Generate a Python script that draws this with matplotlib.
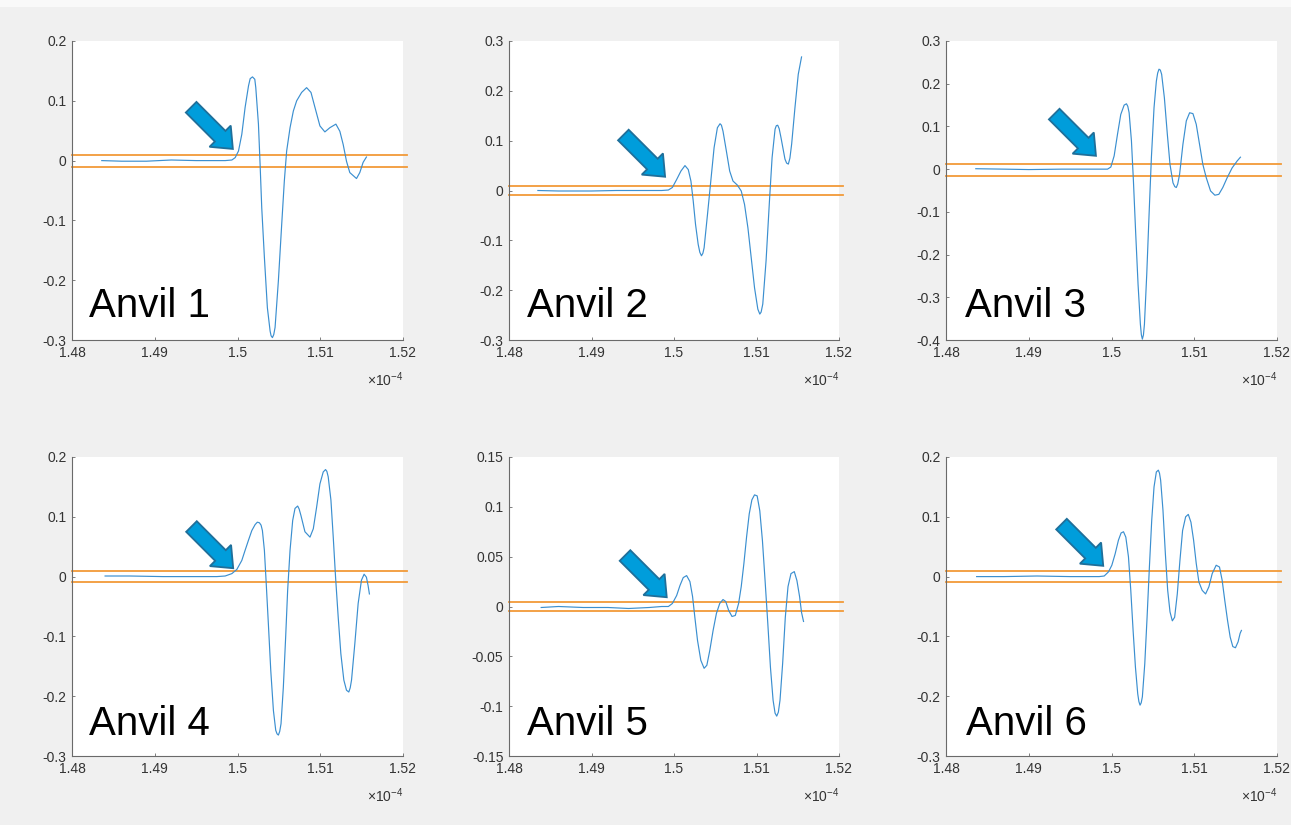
import numpy as np
import matplotlib
matplotlib.use("Agg")
import matplotlib.pyplot as plt
from matplotlib.patches import Polygon, Rectangle
from matplotlib.transforms import IdentityTransform
from matplotlib.ticker import FixedLocator, FuncFormatter

plt.rcParams['font.family'] = ['Liberation Sans', 'DejaVu Sans']
plt.rcParams['mathtext.fontset'] = 'custom'
plt.rcParams['mathtext.rm'] = 'Liberation Sans'
plt.rcParams['mathtext.it'] = 'Liberation Sans'

# ---- waveforms (time in microseconds, amplitude) ----
anvil1_t = [148.36, 148.6, 148.9, 149.2, 149.5, 149.7,
            149.851, 149.932, 149.972, 150.012, 150.052, 150.092, 150.133, 150.153, 150.181,
            150.209, 150.221, 150.253, 150.273, 150.293, 150.325, 150.361, 150.394, 150.406,
            150.422, 150.438, 150.454, 150.494, 150.534, 150.566, 150.594, 150.635, 150.675,
            150.715, 150.775, 150.835, 150.888, 150.936, 150.996, 151.056, 151.116, 151.189,
            151.237, 151.277, 151.317, 151.357, 151.438, 151.478, 151.518, 151.558]
anvil1_v = [0.000, -0.001, -0.001, 0.001, 0.000, 0.000,
            0.000, 0.001, 0.005, 0.016, 0.044, 0.089, 0.125, 0.137, 0.140,
            0.136, 0.122, 0.061, -0.006, -0.079, -0.162, -0.246, -0.285, -0.293,
            -0.296, -0.291, -0.279, -0.201, -0.107, -0.034, 0.016, 0.055, 0.083,
            0.100, 0.114, 0.122, 0.114, 0.089, 0.058, 0.048, 0.055, 0.061,
            0.049, 0.027, -0.001, -0.020, -0.030, -0.020, -0.003, 0.006]

anvil2_t = [148.35, 148.6, 149.0, 149.3, 149.6,
            149.851, 149.932, 149.980, 150.032, 150.084, 150.133, 150.173, 150.205, 150.233,
            150.261, 150.293, 150.313, 150.333, 150.350, 150.365, 150.406, 150.446, 150.486,
            150.526, 150.558, 150.575, 150.594, 150.635, 150.675, 150.715, 150.767, 150.815,
            150.855, 150.896, 150.936, 150.976, 151.016, 151.040, 151.056, 151.076, 151.116,
            151.157, 151.189, 151.225, 151.240, 151.257, 151.275, 151.297, 151.345, 151.365,
            151.386, 151.405, 151.426, 151.466, 151.506, 151.546]
anvil2_v = [0.000, -0.001, -0.001, 0.000, 0.000,
            0.000, 0.001, 0.006, 0.022, 0.039, 0.050, 0.042, 0.019, -0.021,
            -0.068, -0.108, -0.124, -0.131, -0.126, -0.115, -0.048, 0.019, 0.086,
            0.126, 0.134, 0.131, 0.119, 0.079, 0.039, 0.019, 0.011, -0.001,
            -0.028, -0.075, -0.135, -0.195, -0.238, -0.248, -0.244, -0.228, -0.141,
            -0.021, 0.066, 0.123, 0.130, 0.131, 0.124, 0.106, 0.063, 0.055,
            0.053, 0.065, 0.093, 0.166, 0.233, 0.268]

anvil3_t = [148.36, 148.7, 149.0, 149.4, 149.7,
            149.851, 149.952, 149.992, 150.032, 150.072, 150.112, 150.153, 150.181, 150.197,
            150.213, 150.241, 150.265, 150.293, 150.321, 150.349, 150.361, 150.373, 150.386,
            150.398, 150.426, 150.454, 150.482, 150.514, 150.542, 150.558, 150.574, 150.590,
            150.606, 150.639, 150.675, 150.707, 150.743, 150.765, 150.783, 150.800, 150.823,
            150.863, 150.904, 150.944, 150.984, 151.024, 151.064, 151.104, 151.145, 151.197,
            151.249, 151.297, 151.345, 151.398, 151.458, 151.518, 151.558]
anvil3_v = [0.001, 0.000, -0.001, 0.000, 0.000,
            0.000, 0.000, 0.005, 0.031, 0.081, 0.128, 0.150, 0.153, 0.147,
            0.132, 0.066, -0.028, -0.153, -0.270, -0.363, -0.388, -0.398, -0.388,
            -0.363, -0.246, -0.106, 0.027, 0.144, 0.206, 0.225, 0.234, 0.232,
            0.222, 0.167, 0.081, 0.011, -0.032, -0.041, -0.043, -0.035, -0.012,
            0.058, 0.113, 0.132, 0.130, 0.105, 0.058, 0.011, -0.020, -0.051,
            -0.061, -0.059, -0.043, -0.020, 0.003, 0.019, 0.028]

anvil4_t = [148.40, 148.7, 149.1, 149.5, 149.75,
            149.851, 149.932, 149.992, 150.052, 150.092, 150.133, 150.173, 150.213, 150.240,
            150.265, 150.285, 150.301, 150.325, 150.345, 150.373, 150.402, 150.434, 150.462,
            150.478, 150.494, 150.510, 150.526, 150.554, 150.582, 150.606, 150.635, 150.667,
            150.695, 150.727, 150.745, 150.767, 150.815, 150.876, 150.916, 150.956, 150.996,
            151.036, 151.064, 151.080, 151.096, 151.129, 151.157, 151.185, 151.217, 151.249,
            151.285, 151.317, 151.345, 151.362, 151.378, 151.418, 151.458, 151.498, 151.530,
            151.558, 151.578, 151.594]
anvil4_v = [0.001, 0.001, 0.000, 0.000, 0.000,
            0.001, 0.005, 0.012, 0.027, 0.044, 0.061, 0.077, 0.087, 0.091,
            0.090, 0.086, 0.077, 0.044, -0.006, -0.079, -0.157, -0.224, -0.257,
            -0.263, -0.265, -0.259, -0.246, -0.185, -0.101, -0.023, 0.044, 0.094,
            0.114, 0.118, 0.113, 0.102, 0.075, 0.066, 0.080, 0.116, 0.155,
            0.175, 0.179, 0.176, 0.167, 0.128, 0.066, -0.001, -0.068, -0.129,
            -0.173, -0.190, -0.193, -0.186, -0.173, -0.112, -0.045, -0.006, 0.004,
            -0.001, -0.015, -0.029]

anvil5_t = [148.39, 148.6, 148.9, 149.2, 149.45, 149.7,
            149.851, 149.932, 149.980, 150.032, 150.072, 150.112, 150.153, 150.193, 150.225,
            150.253, 150.285, 150.325, 150.365, 150.398, 150.434, 150.474, 150.514, 150.554,
            150.594, 150.627, 150.663, 150.703, 150.743, 150.783, 150.815, 150.847, 150.880,
            150.912, 150.944, 150.976, 151.008, 151.040, 151.072, 151.104, 151.137, 151.169,
            151.201, 151.225, 151.245, 151.265, 151.285, 151.317, 151.349, 151.382, 151.418,
            151.458, 151.490, 151.522, 151.546, 151.570]
anvil5_v = [-0.001, 0.000, -0.001, -0.001, -0.002, -0.001,
            0.000, 0.000, 0.003, 0.011, 0.021, 0.029, 0.031, 0.025, 0.010,
            -0.011, -0.034, -0.054, -0.062, -0.059, -0.044, -0.024, -0.007, 0.003,
            0.007, 0.005, -0.004, -0.010, -0.009, 0.003, 0.020, 0.043, 0.070,
            0.093, 0.107, 0.112, 0.111, 0.096, 0.066, 0.026, -0.017, -0.061,
            -0.094, -0.107, -0.110, -0.106, -0.094, -0.057, -0.011, 0.020, 0.033,
            0.035, 0.026, 0.010, -0.006, -0.015]

anvil6_t = [148.37, 148.7, 149.1, 149.5, 149.75,
            149.851, 149.912, 149.964, 150.004, 150.044, 150.084, 150.116, 150.145, 150.173,
            150.205, 150.233, 150.261, 150.289, 150.317, 150.331, 150.345, 150.359, 150.373,
            150.402, 150.430, 150.458, 150.486, 150.514, 150.542, 150.566, 150.580, 150.594,
            150.622, 150.651, 150.679, 150.707, 150.735, 150.763, 150.795, 150.827, 150.859,
            150.896, 150.928, 150.960, 150.992, 151.024, 151.056, 151.096, 151.137, 151.177,
            151.217, 151.265, 151.305, 151.337, 151.369, 151.402, 151.434, 151.466, 151.498,
            151.530, 151.554, 151.570]
anvil6_v = [0.000, 0.000, 0.001, 0.000, 0.000,
            0.000, 0.001, 0.008, 0.019, 0.038, 0.061, 0.073, 0.075, 0.066,
            0.033, -0.023, -0.090, -0.151, -0.196, -0.209, -0.215, -0.211, -0.201,
            -0.146, -0.068, 0.016, 0.094, 0.150, 0.175, 0.178, 0.173, 0.161,
            0.111, 0.038, -0.023, -0.059, -0.074, -0.068, -0.029, 0.027, 0.077,
            0.100, 0.104, 0.091, 0.061, 0.022, -0.009, -0.023, -0.029, -0.017,
            0.005, 0.019, 0.016, -0.006, -0.040, -0.073, -0.101, -0.117, -0.119,
            -0.109, -0.095, -0.090]

labels = ["Anvil 1", "Anvil 2", "Anvil 3", "Anvil 4", "Anvil 5", "Anvil 6"]
times = [anvil1_t, anvil2_t, anvil3_t, anvil4_t, anvil5_t, anvil6_t]
values = [anvil1_v, anvil2_v, anvil3_v, anvil4_v, anvil5_v, anvil6_v]

# detection thresholds (upper, lower)
thr_upper = [0.010, 0.010, 0.012, 0.0095, 0.005, 0.0095]
thr_lower = [-0.010, -0.010, -0.016, -0.0085, -0.005, -0.0085]

# y-axis limits and tick step
ylims = [(-0.3, 0.2), (-0.3, 0.3), (-0.4, 0.3), (-0.3, 0.2), (-0.15, 0.15), (-0.3, 0.2)]
ysteps = [0.1, 0.1, 0.1, 0.1, 0.05, 0.1]
xticks_e4 = [1.48, 1.49, 1.50, 1.51, 1.52]

# arrow tips in axes fractions
arrow_tips = [(0.486, 0.639), (0.473, 0.546), (0.453, 0.616),
              (0.487, 0.628), (0.478, 0.531), (0.475, 0.636)]

W, H = 1291, 825
fig = plt.figure(figsize=(W / 100, H / 100), dpi=100)
fig.patch.set_facecolor('#f0f0f0')
fig.add_artist(Rectangle((0, 1 - 7 / H), 1, 7 / H, transform=fig.transFigure,
                         facecolor='#f9f9f9', edgecolor='none'))

lefts = [72, 509, 946]
widths = [331, 330, 331]
tops = [41, 457]
ax_h = 299

line_blue = '#3b8fd0'
thr_color = '#f29a38'
axis_gray = '#6a6a6a'
tick_color = '#333333'


def draw_arrow(ax, tip):
    tx, ty = ax.transAxes.transform(tip)
    d = np.array([1.0, -1.0]) / np.sqrt(2)
    n = np.array([1.0, 1.0]) / np.sqrt(2)
    T = np.array([tx, ty])
    L, hl, sw, hw = 59.0, 18.0, 15.0, 30.0
    B = T - d * hl
    S = T - d * L
    pts = [S + n * sw / 2, B + n * sw / 2, B + n * hw / 2, T,
           B - n * hw / 2, B - n * sw / 2, S - n * sw / 2]
    poly = Polygon(pts, closed=True, transform=IdentityTransform(),
                   facecolor='#009ddb', edgecolor='#1f6f9a', linewidth=1.3,
                   zorder=10)
    fig.add_artist(poly)


for i in range(6):
    row, col = divmod(i, 3)
    left = lefts[col] / W
    bottom = (H - (tops[row] + ax_h)) / H
    ax = fig.add_axes([left, bottom, widths[col] / W, ax_h / H])
    ax.set_facecolor('white')

    t = np.array(times[i]) * 1e-6
    v = np.array(values[i])
    ax.plot(t, v, color=line_blue, lw=0.85, zorder=3,
            solid_joinstyle='round')
    ax.axhline(thr_upper[i], xmin=0, xmax=1.012, color=thr_color, lw=1.3,
               clip_on=False, zorder=2)
    ax.axhline(thr_lower[i], xmin=0, xmax=1.012, color=thr_color, lw=1.3,
               clip_on=False, zorder=2)

    ax.set_xlim(1.48e-4, 1.52e-4)
    lo, hi = ylims[i]
    ax.set_ylim(lo, hi)
    nst = int(round((hi - lo) / ysteps[i]))
    yt = [round(lo + k * ysteps[i], 3) for k in range(nst + 1)]
    ax.yaxis.set_major_locator(FixedLocator(yt))
    ax.yaxis.set_major_formatter(FuncFormatter(lambda y, p: '%g' % round(y, 3)))
    ax.xaxis.set_major_locator(FixedLocator([x * 1e-4 for x in xticks_e4]))
    ax.xaxis.set_major_formatter(FuncFormatter(lambda x, p: '%g' % round(x * 1e4, 3)))

    for s in ('top', 'right'):
        ax.spines[s].set_visible(False)
    for s in ('left', 'bottom'):
        ax.spines[s].set_color(axis_gray)
        ax.spines[s].set_linewidth(0.8)
    ax.tick_params(direction='in', length=2.5, width=0.6, color=axis_gray,
                   labelsize=10, labelcolor=tick_color, pad=4)

    ax.text(1.0, -0.155, r'$\times10^{-4}$', transform=ax.transAxes,
            ha='right', va='baseline', fontsize=10, color=tick_color)

    lx = [0.051, 0.054, 0.057, 0.052, 0.055, 0.060][i]
    ly = 0.078 if row == 0 else 0.070
    ax.text(lx, ly, labels[i], transform=ax.transAxes, ha='left',
            va='baseline', fontsize=29, color='black', zorder=5)

    draw_arrow(ax, arrow_tips[i])

fig.savefig('out.png', dpi=100, facecolor=fig.get_facecolor())
